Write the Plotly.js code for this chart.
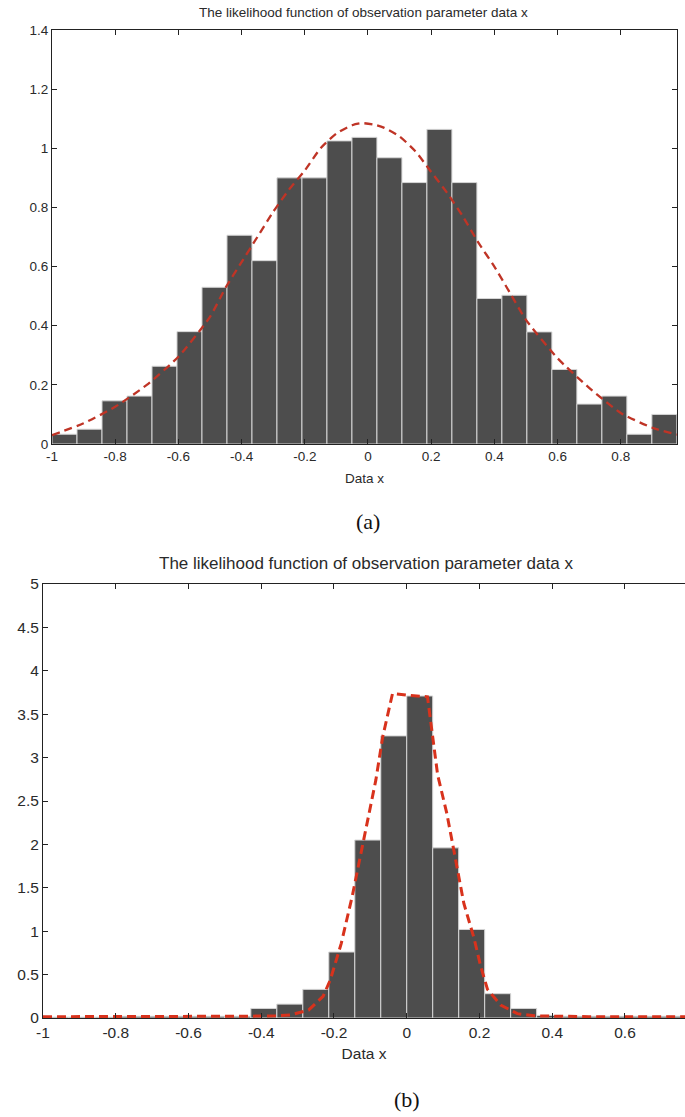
<!DOCTYPE html>
<html>
<head>
<meta charset="utf-8">
<script src="https://cdn.plot.ly/plotly-3.0.1.min.js"></script>
<style>
  html, body { margin: 0; padding: 0; background: #fff; overflow: hidden; }
  #chart { width: 685px; height: 1117px; }
</style>
</head>
<body>
<div id="chart"></div>
<script>
// ---------- Panel (a) data ----------
const titleText = "The likelihood function of observation parameter data x";
const xLabel = "Data x";

const binCentersA = [-0.9604, -0.8813, -0.8022, -0.7231, -0.6440, -0.5649, -0.4858, -0.4067,
  -0.3276, -0.2485, -0.1694, -0.0903, -0.0112, 0.0679, 0.1470, 0.2261, 0.3052, 0.3843,
  0.4634, 0.5425, 0.6216, 0.7007, 0.7798, 0.8589, 0.9380];
const binWidthA = 0.0791;
const histA = [0.033, 0.050, 0.146, 0.162, 0.263, 0.380, 0.530, 0.706, 0.620, 0.900,
  0.900, 1.025, 1.037, 0.968, 0.884, 1.064, 0.884, 0.492, 0.503, 0.379,
  0.252, 0.135, 0.162, 0.033, 0.100];

const curveXA = [-1, -0.9, -0.8, -0.7, -0.6, -0.5, -0.45, -0.4, -0.35, -0.3, -0.25, -0.2,
  -0.15, -0.1, -0.05, -0.02, 0.02, 0.05, 0.1, 0.15, 0.2, 0.25, 0.3, 0.35, 0.4, 0.45, 0.5,
  0.6, 0.7, 0.8, 0.9, 0.978];
const curveYA = [0.030, 0.070, 0.126, 0.200, 0.295, 0.430, 0.530, 0.615, 0.700, 0.785, 0.860,
  0.925, 1.000, 1.050, 1.078, 1.085, 1.080, 1.070, 1.040, 0.990, 0.920, 0.850, 0.770, 0.680,
  0.600, 0.510, 0.420, 0.290, 0.190, 0.105, 0.055, 0.032];

const xTickValsA = [-1, -0.8, -0.6, -0.4, -0.2, 0, 0.2, 0.4, 0.6, 0.8];
const xTickTextA = ["-1", "-0.8", "-0.6", "-0.4", "-0.2", "0", "0.2", "0.4", "0.6", "0.8"];
const yTickValsA = [0, 0.2, 0.4, 0.6, 0.8, 1, 1.2, 1.4];
const yTickTextA = ["0", "0.2", "0.4", "0.6", "0.8", "1", "1.2", "1.4"];

// ---------- Panel (b) data ----------
const binCentersB = [-0.9643, -0.8929, -0.8214, -0.7500, -0.6786, -0.6071, -0.5357, -0.4643,
  -0.3929, -0.3214, -0.2500, -0.1786, -0.1071, -0.0357, 0.0357, 0.1071, 0.1786, 0.2500,
  0.3214, 0.3929, 0.4643, 0.5357, 0.6071, 0.6786, 0.7500, 0.8214, 0.8929, 0.9643];
const binWidthB = 0.0714;
const histB = [0.01, 0.01, 0.01, 0.02, 0.02, 0.02, 0.02, 0.02,
  0.11, 0.16, 0.33, 0.76, 2.05, 3.25, 3.71, 1.96, 1.02, 0.28,
  0.11, 0.03, 0.02, 0.02, 0.02, 0.02, 0.02, 0.01, 0.01, 0.01];

const curveXB = [-1, -0.8, -0.6, -0.45, -0.36, -0.32, -0.27, -0.23, -0.21, -0.18, -0.15,
  -0.122, -0.108, -0.085, -0.066, -0.039, 0.0, 0.057, 0.085, 0.11, 0.13, 0.157, 0.185,
  0.203, 0.222, 0.258, 0.304, 0.35, 0.5, 0.765];
const curveYB = [0.015, 0.015, 0.015, 0.02, 0.025, 0.035, 0.09, 0.25, 0.44, 0.86, 1.40,
  1.97, 2.28, 2.74, 3.24, 3.74, 3.72, 3.70, 2.80, 2.36, 1.92, 1.32, 0.92,
  0.60, 0.33, 0.15, 0.05, 0.025, 0.015, 0.015];

const xTickValsB = [-1, -0.8, -0.6, -0.4, -0.2, 0, 0.2, 0.4, 0.6];
const xTickTextB = ["-1", "-0.8", "-0.6", "-0.4", "-0.2", "0", "0.2", "0.4", "0.6"];
const yTickValsB = [0, 0.5, 1, 1.5, 2, 2.5, 3, 3.5, 4, 4.5, 5];
const yTickTextB = ["0", "0.5", "1", "1.5", "2", "2.5", "3", "3.5", "4", "4.5", "5"];

// ---------- styling ----------
const W = 685, H = 1117;
const px = v => v / W;
const py = v => 1 - v / H;
const fam = "'Liberation Sans Narrow', 'Liberation Sans', Arial, sans-serif";
const fontA = { family: fam, size: 13.5, color: "#2a2a2a" };
const fontB = { family: fam, size: 15.5, color: "#2a2a2a" };
const barColor = "#4d4d4d";
const barEdge = "#d6d6d6";

const traces = [
  {
    type: "bar", x: binCentersA, y: histA, width: binWidthA,
    marker: { color: barColor, line: { color: barEdge, width: 1 } },
    xaxis: "x", yaxis: "y", hoverinfo: "x+y", showlegend: false
  },
  {
    type: "scatter", mode: "lines", x: curveXA, y: curveYA,
    line: { color: "#bf3426", width: 2.3, dash: "8px,5px", shape: "spline", smoothing: 0.6 },
    xaxis: "x", yaxis: "y", showlegend: false
  },
  {
    type: "bar", x: binCentersB, y: histB, width: binWidthB,
    marker: { color: barColor, line: { color: barEdge, width: 1 } },
    xaxis: "x2", yaxis: "y2", hoverinfo: "x+y", showlegend: false
  },
  {
    type: "scatter", mode: "lines", x: curveXB, y: curveYB,
    line: { color: "#d8321c", width: 3, dash: "9px,5px" },
    xaxis: "x2", yaxis: "y2", showlegend: false
  }
];

const axisCommon = {
  showgrid: false, zeroline: false, showline: true, linecolor: "#222", linewidth: 1,
  ticks: "inside", ticklen: 5, tickcolor: "#222", tickwidth: 1,
  tickmode: "array", fixedrange: true
};

const layout = {
  width: W, height: H,
  margin: { l: 0, r: 0, t: 0, b: 0, pad: 0 },
  paper_bgcolor: "#fff", plot_bgcolor: "#fff",
  bargap: 0,
  xaxis: Object.assign({}, axisCommon, {
    domain: [px(52), px(677)], range: [-1, 0.978], anchor: "y",
    tickvals: xTickValsA, ticktext: xTickTextA, mirror: "ticks", tickfont: fontA,
    title: { text: xLabel, font: fontA, standoff: 10 }
  }),
  yaxis: Object.assign({}, axisCommon, {
    domain: [py(444), py(30)], range: [0, 1.4], anchor: "x",
    tickvals: yTickValsA, ticktext: yTickTextA, mirror: "ticks", tickfont: fontA
  }),
  xaxis2: Object.assign({}, axisCommon, {
    domain: [px(43), 1], range: [-1, 0.765], anchor: "y2",
    tickvals: xTickValsB, ticktext: xTickTextB, mirror: "ticks", tickfont: fontB,
    title: { text: xLabel, font: fontB, standoff: 8 }
  }),
  yaxis2: Object.assign({}, axisCommon, {
    domain: [py(1018), py(584)], range: [0, 5], anchor: "x2",
    tickvals: yTickValsB, ticktext: yTickTextB, mirror: false, tickfont: fontB
  }),
  annotations: [
    { text: titleText, xref: "paper", yref: "paper", x: px(363), y: py(13), showarrow: false,
      xanchor: "center", yanchor: "middle", font: fontA },
    { text: titleText, xref: "paper", yref: "paper", x: px(366), y: py(563), showarrow: false,
      xanchor: "center", yanchor: "middle", font: Object.assign({}, fontB, { size: 17 }) },
    { text: "(a)", xref: "paper", yref: "paper", x: px(368), y: py(521), showarrow: false,
      xanchor: "center", yanchor: "middle",
      font: { family: "'Liberation Serif', 'DejaVu Serif', serif", size: 22, color: "#111" } },
    { text: "(b)", xref: "paper", yref: "paper", x: px(407), y: py(1099), showarrow: false,
      xanchor: "center", yanchor: "middle",
      font: { family: "'Liberation Serif', 'DejaVu Serif', serif", size: 22, color: "#111" } }
  ]
};

Plotly.newPlot("chart", traces, layout, { displayModeBar: false, staticPlot: true });
</script>
</body>
</html>
